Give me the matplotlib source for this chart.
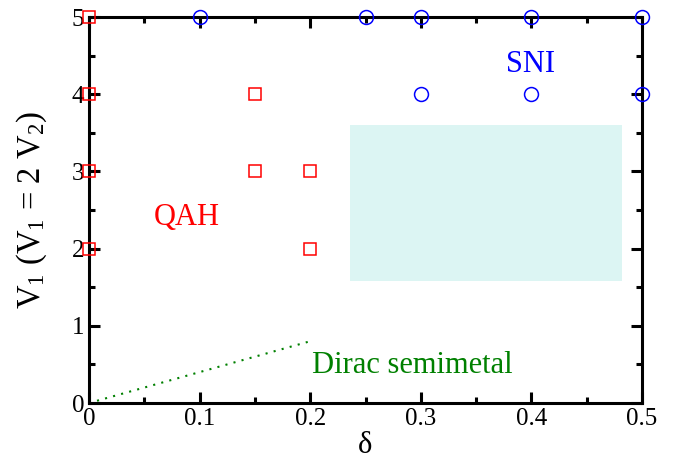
"""Phase diagram in the (delta, V1) plane: QAH, SNI and Dirac semimetal regions."""

import matplotlib

matplotlib.use("Agg")

import matplotlib.pyplot as plt
from matplotlib.patches import Rectangle
from matplotlib.ticker import MultipleLocator

plt.rcParams["font.family"] = ["Liberation Serif", "DejaVu Serif"]
plt.rcParams["mathtext.fontset"] = "custom"
plt.rcParams["mathtext.rm"] = "Liberation Serif"
plt.rcParams["mathtext.it"] = "Liberation Serif:italic"

# QAH points (red squares)
qah_delta = [0.0, 0.0, 0.0, 0.0, 0.15, 0.15, 0.2, 0.2]
qah_v1 = [5, 4, 3, 2, 4, 3, 3, 2]

# SNI points (blue circles)
sni_delta = [0.1, 0.25, 0.3, 0.4, 0.5, 0.3, 0.4, 0.5]
sni_v1 = [5, 5, 5, 5, 5, 4, 4, 4]

# Dirac semimetal boundary (dotted)
dirac_delta = [0.0, 0.2]
dirac_v1 = [0.0, 0.8]

# shaded region: delta range, V1 range
shade_delta = (0.236, 0.482)
shade_v1 = (1.58, 3.6)

x_ticks = [0.0, 0.1, 0.2, 0.3, 0.4, 0.5]
x_labels = ["0", "0.1", "0.2", "0.3", "0.4", "0.5"]
y_ticks = [0, 1, 2, 3, 4, 5]


def main() -> None:
    fig = plt.figure(figsize=(6.88, 4.62), dpi=100)
    ax = fig.add_axes([89 / 688, 1 - 403 / 462, (642 - 89) / 688, (403 - 17) / 462])

    ax.add_patch(Rectangle((shade_delta[0], shade_v1[0]), shade_delta[1] - shade_delta[0],
                           shade_v1[1] - shade_v1[0], facecolor="#dcf5f3", edgecolor="none", zorder=1))
    ax.plot(dirac_delta, dirac_v1, color="#008000", linestyle=(0, (1, 3)), linewidth=1.5, zorder=2)
    ax.plot(qah_delta, qah_v1, linestyle="none", marker="s", markersize=8.5, markerfacecolor="none",
            markeredgecolor="red", markeredgewidth=1.1, clip_on=False, zorder=4)
    ax.plot(sni_delta, sni_v1, linestyle="none", marker="o", markersize=10, markerfacecolor="none",
            markeredgecolor="blue", markeredgewidth=1.1, clip_on=False, zorder=4)

    ax.text(0.088, 2.4, "QAH", color="red", fontsize=22, ha="center", va="center")
    ax.text(0.399, 4.39, "SNI", color="blue", fontsize=22, ha="center", va="center")
    ax.text(0.292, 0.49, "Dirac semimetal", color="#008000", fontsize=22, ha="center", va="center")

    ax.set_xlim(0, 0.5)
    ax.set_ylim(0, 5)
    ax.set_xticks(x_ticks)
    ax.set_xticklabels(x_labels, fontsize=18)
    ax.set_yticks(y_ticks)
    ax.set_yticklabels([str(v) for v in y_ticks], fontsize=18)
    ax.xaxis.set_minor_locator(MultipleLocator(0.05))
    ax.yaxis.set_minor_locator(MultipleLocator(0.5))
    ax.tick_params(which="both", direction="in", top=True, right=True, width=2.2)
    ax.tick_params(which="major", length=8)
    ax.tick_params(which="minor", length=4.5)
    ax.tick_params(axis="x", which="major", pad=3.5)
    ax.tick_params(axis="y", which="major", pad=3.5)
    for spine in ax.spines.values():
        spine.set_linewidth(2.2)
        spine.set_zorder(3)

    ax.set_xlabel("δ", fontsize=22, labelpad=1)
    ax.set_ylabel("V$_1$ (V$_1$ = 2 V$_2$)", fontsize=23.5, labelpad=16)

    fig.savefig("out.png", dpi=100)
    plt.close(fig)


if __name__ == "__main__":
    main()
